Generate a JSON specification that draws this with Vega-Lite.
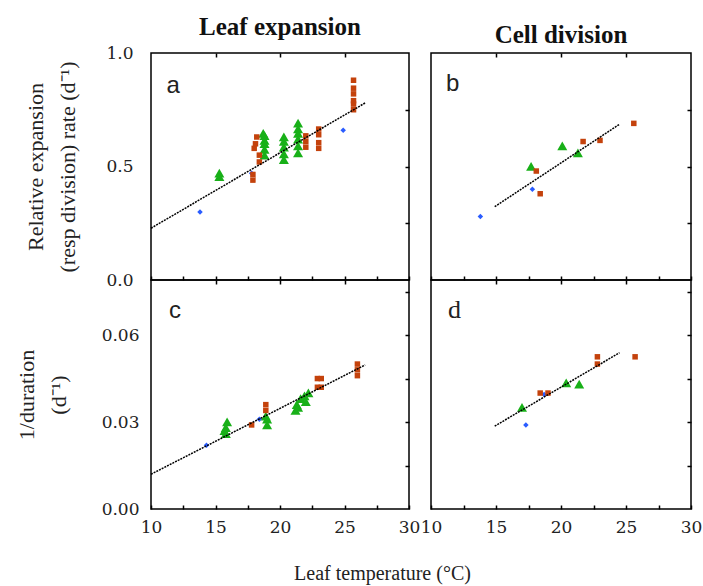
{
  "$schema": "https://vega.github.io/schema/vega-lite/v6.json",
  "padding": {"left": 14, "top": 14, "right": 2, "bottom": 2},
  "background": "white",
  "config": {
    "view": {"stroke": "black", "strokeWidth": 1.5},
    "axis": {"domain": false, "grid": false, "labelFont": "DejaVu Serif", "labelFontSize": 17, "labelColor": "#222", "tickColor": "black", "tickSize": -4, "tickWidth": 1.5, "labelFlush": false, "labelOverlap": false, "labelBound": false, "titleFont": "Liberation Serif", "titleFontSize": 22, "titleFontWeight": "normal", "titleColor": "#222", "titleLineHeight": 32}
  },
  "datasets": {
    "pts": [
      {"panel": "a", "group": "blue", "temp": 13.8, "value": 0.30},
      {"panel": "a", "group": "blue", "temp": 17.8, "value": 0.47},
      {"panel": "a", "group": "blue", "temp": 24.9, "value": 0.66},
      {"panel": "a", "group": "green", "temp": 15.3, "value": 0.455},
      {"panel": "a", "group": "green", "temp": 15.3, "value": 0.47},
      {"panel": "a", "group": "green", "temp": 18.8, "value": 0.55},
      {"panel": "a", "group": "green", "temp": 18.8, "value": 0.575},
      {"panel": "a", "group": "green", "temp": 18.8, "value": 0.60},
      {"panel": "a", "group": "green", "temp": 18.8, "value": 0.615},
      {"panel": "a", "group": "green", "temp": 18.8, "value": 0.635},
      {"panel": "a", "group": "green", "temp": 18.7, "value": 0.645},
      {"panel": "a", "group": "green", "temp": 20.3, "value": 0.53},
      {"panel": "a", "group": "green", "temp": 20.3, "value": 0.555},
      {"panel": "a", "group": "green", "temp": 20.3, "value": 0.585},
      {"panel": "a", "group": "green", "temp": 20.3, "value": 0.61},
      {"panel": "a", "group": "green", "temp": 20.3, "value": 0.63},
      {"panel": "a", "group": "green", "temp": 21.4, "value": 0.56},
      {"panel": "a", "group": "green", "temp": 21.4, "value": 0.59},
      {"panel": "a", "group": "green", "temp": 21.4, "value": 0.62},
      {"panel": "a", "group": "green", "temp": 21.4, "value": 0.645},
      {"panel": "a", "group": "green", "temp": 21.4, "value": 0.665},
      {"panel": "a", "group": "green", "temp": 21.4, "value": 0.69},
      {"panel": "a", "group": "red", "temp": 17.9, "value": 0.44},
      {"panel": "a", "group": "red", "temp": 17.9, "value": 0.465},
      {"panel": "a", "group": "red", "temp": 18.0, "value": 0.58},
      {"panel": "a", "group": "red", "temp": 18.1, "value": 0.60},
      {"panel": "a", "group": "red", "temp": 18.2, "value": 0.63},
      {"panel": "a", "group": "red", "temp": 18.4, "value": 0.55},
      {"panel": "a", "group": "red", "temp": 18.4, "value": 0.52},
      {"panel": "a", "group": "red", "temp": 22.0, "value": 0.585},
      {"panel": "a", "group": "red", "temp": 22.0, "value": 0.61},
      {"panel": "a", "group": "red", "temp": 22.0, "value": 0.635},
      {"panel": "a", "group": "red", "temp": 23.0, "value": 0.58},
      {"panel": "a", "group": "red", "temp": 23.0, "value": 0.605},
      {"panel": "a", "group": "red", "temp": 23.0, "value": 0.64},
      {"panel": "a", "group": "red", "temp": 23.0, "value": 0.665},
      {"panel": "a", "group": "red", "temp": 25.7, "value": 0.75},
      {"panel": "a", "group": "red", "temp": 25.7, "value": 0.775},
      {"panel": "a", "group": "red", "temp": 25.7, "value": 0.79},
      {"panel": "a", "group": "red", "temp": 25.7, "value": 0.82},
      {"panel": "a", "group": "red", "temp": 25.7, "value": 0.845},
      {"panel": "a", "group": "red", "temp": 25.7, "value": 0.88},
      {"panel": "b", "group": "blue", "temp": 13.8, "value": 0.28},
      {"panel": "b", "group": "blue", "temp": 17.8, "value": 0.40},
      {"panel": "b", "group": "green", "temp": 17.7, "value": 0.50},
      {"panel": "b", "group": "green", "temp": 20.1, "value": 0.59},
      {"panel": "b", "group": "green", "temp": 21.3, "value": 0.56},
      {"panel": "b", "group": "red", "temp": 18.1, "value": 0.48},
      {"panel": "b", "group": "red", "temp": 18.4, "value": 0.38},
      {"panel": "b", "group": "red", "temp": 21.7, "value": 0.61},
      {"panel": "b", "group": "red", "temp": 23.0, "value": 0.615},
      {"panel": "b", "group": "red", "temp": 25.6, "value": 0.69},
      {"panel": "c", "group": "blue", "temp": 14.3, "value": 0.022},
      {"panel": "c", "group": "blue", "temp": 18.4, "value": 0.031},
      {"panel": "c", "group": "green", "temp": 15.8, "value": 0.026},
      {"panel": "c", "group": "green", "temp": 15.8, "value": 0.028},
      {"panel": "c", "group": "green", "temp": 15.9, "value": 0.030},
      {"panel": "c", "group": "green", "temp": 15.7, "value": 0.027},
      {"panel": "c", "group": "green", "temp": 19.0, "value": 0.029},
      {"panel": "c", "group": "green", "temp": 19.0, "value": 0.031},
      {"panel": "c", "group": "green", "temp": 18.9, "value": 0.032},
      {"panel": "c", "group": "green", "temp": 21.2, "value": 0.034},
      {"panel": "c", "group": "green", "temp": 21.3, "value": 0.036},
      {"panel": "c", "group": "green", "temp": 21.6, "value": 0.038},
      {"panel": "c", "group": "green", "temp": 21.9, "value": 0.039},
      {"panel": "c", "group": "green", "temp": 22.0, "value": 0.037},
      {"panel": "c", "group": "green", "temp": 21.4, "value": 0.035},
      {"panel": "c", "group": "green", "temp": 22.2, "value": 0.040},
      {"panel": "c", "group": "red", "temp": 17.8, "value": 0.029},
      {"panel": "c", "group": "red", "temp": 18.9, "value": 0.034},
      {"panel": "c", "group": "red", "temp": 18.9, "value": 0.036},
      {"panel": "c", "group": "red", "temp": 22.9, "value": 0.042},
      {"panel": "c", "group": "red", "temp": 22.9, "value": 0.045},
      {"panel": "c", "group": "red", "temp": 23.2, "value": 0.042},
      {"panel": "c", "group": "red", "temp": 23.2, "value": 0.045},
      {"panel": "c", "group": "red", "temp": 26.0, "value": 0.046},
      {"panel": "c", "group": "red", "temp": 26.0, "value": 0.048},
      {"panel": "c", "group": "red", "temp": 26.0, "value": 0.050},
      {"panel": "d", "group": "blue", "temp": 17.3, "value": 0.029},
      {"panel": "d", "group": "blue", "temp": 18.7, "value": 0.0395},
      {"panel": "d", "group": "green", "temp": 17.0, "value": 0.035},
      {"panel": "d", "group": "green", "temp": 20.4, "value": 0.0435},
      {"panel": "d", "group": "green", "temp": 21.4, "value": 0.043},
      {"panel": "d", "group": "red", "temp": 18.4, "value": 0.040},
      {"panel": "d", "group": "red", "temp": 19.0, "value": 0.040},
      {"panel": "d", "group": "red", "temp": 22.8, "value": 0.050},
      {"panel": "d", "group": "red", "temp": 22.8, "value": 0.0525},
      {"panel": "d", "group": "red", "temp": 25.7, "value": 0.0525}
    ],
    "fits": [
      {"panel": "a", "temp": 10, "value": 0.228},
      {"panel": "a", "temp": 26.6, "value": 0.78},
      {"panel": "b", "temp": 14.9, "value": 0.323},
      {"panel": "b", "temp": 24.5, "value": 0.686},
      {"panel": "c", "temp": 10, "value": 0.012},
      {"panel": "c", "temp": 26.6, "value": 0.0497},
      {"panel": "d", "temp": 14.9, "value": 0.0286},
      {"panel": "d", "temp": 24.5, "value": 0.0539}
    ],
    "letters": [
      {"panel": "a", "temp": 11.2, "value": 0.825, "letter": "a"},
      {"panel": "b", "temp": 11.15, "value": 0.833, "letter": "b"},
      {"panel": "c", "temp": 11.4, "value": 0.0659, "letter": "c"},
      {"panel": "d", "temp": 11.3, "value": 0.0659, "letter": "d"}
    ]
  },
  "title": {"text": "Leaf temperature (°C)", "orient": "bottom", "anchor": "middle", "dx": 24, "offset": 28, "font": "Liberation Serif", "fontSize": 20, "fontWeight": "normal", "color": "#222"},
  "columns": 2,
  "spacing": {"row": 0, "column": 22},
  "bounds": "flush",
  "concat": [
    {
      "width": 258, "height": 227,
      "title": {"text": "Leaf expansion", "font": "Liberation Serif", "fontSize": 25, "fontWeight": "bold", "anchor": "middle", "offset": 4, "color": "#111"},
      "layer": [
        {
          "data": {"name": "pts"},
          "transform": [{"filter": "datum.panel === 'a'"}],
          "mark": {"type": "point", "filled": true, "opacity": 1, "size": 100},
          "encoding": {
            "x": {"field": "temp", "type": "quantitative", "scale": {"domain": [10, 30], "nice": false, "zero": false}, "axis": {"orient": "bottom", "values": [10, 12.5, 15, 17.5, 20, 22.5, 25, 27.5, 30], "labels": false, "title": null}},
            "y": {"field": "value", "type": "quantitative", "scale": {"domain": [0, 1], "nice": false}, "axis": {"orient": "left", "values": [0, 0.5, 1], "format": ".1f", "ticks": false, "labelPadding": 18, "title": ["Relative expansion", "(resp division) rate (d⁻¹)"], "titlePadding": 26, "titleLineHeight": 32}},
            "color": {"field": "group", "type": "nominal", "scale": {"domain": ["blue", "green", "red"], "range": ["#2a5cff", "#18b018", "#c4420c"]}, "legend": null},
            "shape": {"field": "group", "type": "nominal", "scale": {"domain": ["blue", "green", "red"], "range": ["M0,-0.55L0.55,0L0,0.55L-0.55,0Z", "M0,-0.9L1,0.85L-1,0.85Z", "M-0.55,-0.55H0.55V0.55H-0.55Z"]}, "legend": null}
          }
        },
        {
          "data": {"name": "fits"},
          "transform": [{"filter": "datum.panel === 'a'"}],
          "mark": {"type": "line", "color": "black", "strokeWidth": 1.5, "strokeDash": [2, 1]},
          "encoding": {
            "x": {"field": "temp", "type": "quantitative", "scale": {"domain": [10, 30], "nice": false, "zero": false}, "axis": {"orient": "top", "values": [15, 20, 25], "labels": false, "title": null}},
            "y": {"field": "value", "type": "quantitative", "scale": {"domain": [0, 1], "nice": false}, "axis": {"orient": "right", "values": [0.25, 0.5, 0.75], "labels": false, "title": null}}
          }
        },
        {
          "data": {"name": "letters"},
          "transform": [{"filter": "datum.panel === 'a'"}],
          "mark": {"type": "text", "align": "left", "baseline": "alphabetic", "font": "Liberation Sans", "fontSize": 24, "color": "#222"},
          "encoding": {
            "x": {"field": "temp", "type": "quantitative", "axis": null},
            "y": {"field": "value", "type": "quantitative", "axis": null},
            "text": {"field": "letter", "type": "nominal"}
          }
        }
      ],
      "resolve": {"axis": {"x": "independent", "y": "independent"}}
    },
    {
      "width": 260, "height": 227,
      "title": {"text": "Cell division", "font": "Liberation Serif", "fontSize": 25, "fontWeight": "bold", "anchor": "middle", "offset": 4, "color": "#111"},
      "layer": [
        {
          "data": {"name": "pts"},
          "transform": [{"filter": "datum.panel === 'b'"}],
          "mark": {"type": "point", "filled": true, "opacity": 1, "size": 100},
          "encoding": {
            "x": {"field": "temp", "type": "quantitative", "scale": {"domain": [10, 30], "nice": false, "zero": false}, "axis": {"orient": "bottom", "values": [10, 12.5, 15, 17.5, 20, 22.5, 25, 27.5, 30], "labels": false, "title": null}},
            "y": {"field": "value", "type": "quantitative", "scale": {"domain": [0, 1], "nice": false}, "axis": {"orient": "left", "values": [0, 0.5, 1], "labels": false, "ticks": false, "title": null}},
            "color": {"field": "group", "type": "nominal", "scale": {"domain": ["blue", "green", "red"], "range": ["#2a5cff", "#18b018", "#c4420c"]}, "legend": null},
            "shape": {"field": "group", "type": "nominal", "scale": {"domain": ["blue", "green", "red"], "range": ["M-0.72,0A0.72,0.72 0 1,0 0.72,0A0.72,0.72 0 1,0 -0.72,0Z", "M0,-0.95L1.1,0.9L-1.1,0.9Z", "M-0.62,-0.62H0.62V0.62H-0.62Z"]}, "legend": null}
          }
        },
        {
          "data": {"name": "fits"},
          "transform": [{"filter": "datum.panel === 'b'"}],
          "mark": {"type": "line", "color": "black", "strokeWidth": 1.5, "strokeDash": [2, 1]},
          "encoding": {
            "x": {"field": "temp", "type": "quantitative", "scale": {"domain": [10, 30], "nice": false, "zero": false}, "axis": {"orient": "top", "values": [15, 20, 25], "labels": false, "title": null}},
            "y": {"field": "value", "type": "quantitative", "scale": {"domain": [0, 1], "nice": false}, "axis": {"orient": "right", "values": [0.25, 0.5, 0.75], "labels": false, "title": null}}
          }
        },
        {
          "data": {"name": "letters"},
          "transform": [{"filter": "datum.panel === 'b'"}],
          "mark": {"type": "text", "align": "left", "baseline": "alphabetic", "font": "Liberation Sans", "fontSize": 24, "color": "#222"},
          "encoding": {
            "x": {"field": "temp", "type": "quantitative", "axis": null},
            "y": {"field": "value", "type": "quantitative", "axis": null},
            "text": {"field": "letter", "type": "nominal"}
          }
        }
      ],
      "resolve": {"axis": {"x": "independent", "y": "independent"}}
    },
    {
      "width": 258, "height": 229,
      "layer": [
        {
          "data": {"name": "pts"},
          "transform": [{"filter": "datum.panel === 'c'"}],
          "mark": {"type": "point", "filled": true, "opacity": 1, "size": 100},
          "encoding": {
            "x": {"field": "temp", "type": "quantitative", "scale": {"domain": [10, 30], "nice": false, "zero": false}, "axis": {"orient": "bottom", "values": [10, 12.5, 15, 17.5, 20, 22.5, 25, 27.5, 30], "labelExpr": "datum.value % 5 === 0 ? datum.label : ''", "labelPadding": 14, "title": null}},
            "y": {"field": "value", "type": "quantitative", "scale": {"domain": [0, 0.079], "nice": false}, "axis": {"orient": "left", "values": [0, 0.03, 0.06], "format": ".2f", "ticks": false, "labelPadding": 12, "title": ["1/duration", "(d⁻¹)"], "titlePadding": 31, "titleLineHeight": 32}},
            "color": {"field": "group", "type": "nominal", "scale": {"domain": ["blue", "green", "red"], "range": ["#2a5cff", "#18b018", "#c4420c"]}, "legend": null},
            "shape": {"field": "group", "type": "nominal", "scale": {"domain": ["blue", "green", "red"], "range": ["M0,-0.5L0.5,0L0,0.5L-0.5,0Z", "M0,-0.9L1,0.85L-1,0.85Z", "M-0.55,-0.55H0.55V0.55H-0.55Z"]}, "legend": null}
          }
        },
        {
          "data": {"name": "fits"},
          "transform": [{"filter": "datum.panel === 'c'"}],
          "mark": {"type": "line", "color": "black", "strokeWidth": 1.5, "strokeDash": [2, 1]},
          "encoding": {
            "x": {"field": "temp", "type": "quantitative", "scale": {"domain": [10, 30], "nice": false, "zero": false}, "axis": {"orient": "top", "values": [15, 20, 25], "labels": false, "title": null}},
            "y": {"field": "value", "type": "quantitative", "scale": {"domain": [0, 0.079], "nice": false}, "axis": {"orient": "right", "values": [0.015, 0.03, 0.045, 0.06, 0.075], "labels": false, "title": null}}
          }
        },
        {
          "data": {"name": "letters"},
          "transform": [{"filter": "datum.panel === 'c'"}],
          "mark": {"type": "text", "align": "left", "baseline": "alphabetic", "font": "Liberation Sans", "fontSize": 24, "color": "#222"},
          "encoding": {
            "x": {"field": "temp", "type": "quantitative", "axis": null},
            "y": {"field": "value", "type": "quantitative", "axis": null},
            "text": {"field": "letter", "type": "nominal"}
          }
        }
      ],
      "resolve": {"axis": {"x": "independent", "y": "independent"}}
    },
    {
      "width": 260, "height": 229,
      "layer": [
        {
          "data": {"name": "pts"},
          "transform": [{"filter": "datum.panel === 'd'"}],
          "mark": {"type": "point", "filled": true, "opacity": 1, "size": 100},
          "encoding": {
            "x": {"field": "temp", "type": "quantitative", "scale": {"domain": [10, 30], "nice": false, "zero": false}, "axis": {"orient": "bottom", "values": [10, 12.5, 15, 17.5, 20, 22.5, 25, 27.5, 30], "labelExpr": "datum.value % 5 === 0 ? datum.label : ''", "labelPadding": 14, "title": null}},
            "y": {"field": "value", "type": "quantitative", "scale": {"domain": [0, 0.079], "nice": false}, "axis": {"orient": "left", "values": [0, 0.03, 0.06], "labels": false, "ticks": false, "title": null}},
            "color": {"field": "group", "type": "nominal", "scale": {"domain": ["blue", "green", "red"], "range": ["#2a5cff", "#18b018", "#c4420c"]}, "legend": null},
            "shape": {"field": "group", "type": "nominal", "scale": {"domain": ["blue", "green", "red"], "range": ["M-0.72,0A0.72,0.72 0 1,0 0.72,0A0.72,0.72 0 1,0 -0.72,0Z", "M0,-0.95L1.1,0.9L-1.1,0.9Z", "M-0.62,-0.62H0.62V0.62H-0.62Z"]}, "legend": null}
          }
        },
        {
          "data": {"name": "fits"},
          "transform": [{"filter": "datum.panel === 'd'"}],
          "mark": {"type": "line", "color": "black", "strokeWidth": 1.5, "strokeDash": [2, 1]},
          "encoding": {
            "x": {"field": "temp", "type": "quantitative", "scale": {"domain": [10, 30], "nice": false, "zero": false}, "axis": {"orient": "top", "values": [15, 20, 25], "labels": false, "title": null}},
            "y": {"field": "value", "type": "quantitative", "scale": {"domain": [0, 0.079], "nice": false}, "axis": {"orient": "right", "values": [0.015, 0.03, 0.045, 0.06, 0.075], "labels": false, "title": null}}
          }
        },
        {
          "data": {"name": "letters"},
          "transform": [{"filter": "datum.panel === 'd'"}],
          "mark": {"type": "text", "align": "left", "baseline": "alphabetic", "font": "Liberation Serif", "fontSize": 26, "color": "#222"},
          "encoding": {
            "x": {"field": "temp", "type": "quantitative", "axis": null},
            "y": {"field": "value", "type": "quantitative", "axis": null},
            "text": {"field": "letter", "type": "nominal"}
          }
        }
      ],
      "resolve": {"axis": {"x": "independent", "y": "independent"}}
    }
  ]
}
